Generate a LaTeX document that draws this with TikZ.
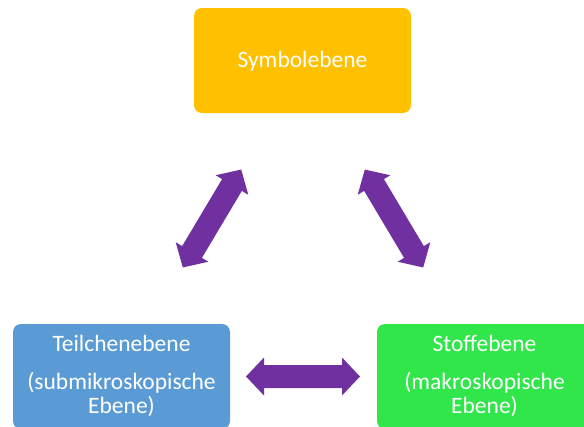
\documentclass[tikz,border=0pt]{standalone}
\usepackage{fontspec}
\setmainfont{Carlito}
\usetikzlibrary{calc}

\definecolor{symfill}{HTML}{FFC000}
\definecolor{teilfill}{HTML}{5B9BD5}
\definecolor{stofffill}{HTML}{31E64B}
\definecolor{arrowfill}{HTML}{7030A0}

\tikzset{
  levelbox/.style={rectangle, rounded corners=8pt, minimum width=217pt,
    minimum height=105pt, inner sep=0pt, draw=none},
  lbl/.style={text=white, inner sep=0pt, anchor=base,
    font=\fontsize{23.5}{24}\selectfont},
  dblarrow/.pic={
    \fill[arrowfill] (-57,0) -- (-39,19) -- (-39,11.5) -- (39,11.5) -- (39,19)
      -- (57,0) -- (39,-19) -- (39,-11.5) -- (-39,-11.5) -- (-39,-19) -- cycle;
  }
}

\begin{document}
\begin{tikzpicture}[x=1pt, y=-1pt]
  \useasboundingbox (0,0) rectangle (584,426);
  \clip (0,0) rectangle (584,426);

  % the three levels
  \node[levelbox, fill=symfill]   (sym)   at (302.5,60.5)  {};
  \node[levelbox, fill=teilfill]  (teil)  at (121.5,376.5) {};
  \node[levelbox, fill=stofffill] (stoff) at (485.5,376.5) {};

  % labels
  \node[lbl] (sym-l)    at ([yshift=-6.8pt]sym.center) {Symbolebene};
  \node[lbl] (teil-l1)  at ([yshift=-27.7pt]teil.north) {Teilchenebene};
  \node[lbl] (teil-l2)  at ([yshift=-65.3pt]teil.north) {(submikroskopische};
  \node[lbl] (teil-l3)  at ([yshift=-89.3pt]teil.north) {Ebene)};
  \node[lbl] (stoff-l1) at ([yshift=-27.7pt,xshift=-1pt]stoff.north) {Stoffebene};
  \node[lbl] (stoff-l2) at ([yshift=-65.3pt,xshift=-1pt]stoff.north) {(makroskopische};
  \node[lbl] (stoff-l3) at ([yshift=-89.3pt,xshift=-1pt]stoff.north) {Ebene)};

  % block double arrows between the levels
  \pic[rotate=59.2]  at ($(sym.south)!0.5!(teil.north)$)  {dblarrow};
  \pic[rotate=120.8] at ($(sym.south)!0.5!(stoff.north)$) {dblarrow};
  \pic at ($(teil.east)!0.5!(stoff.west)+(-0.5,0)$) {dblarrow};
\end{tikzpicture}
\end{document}
